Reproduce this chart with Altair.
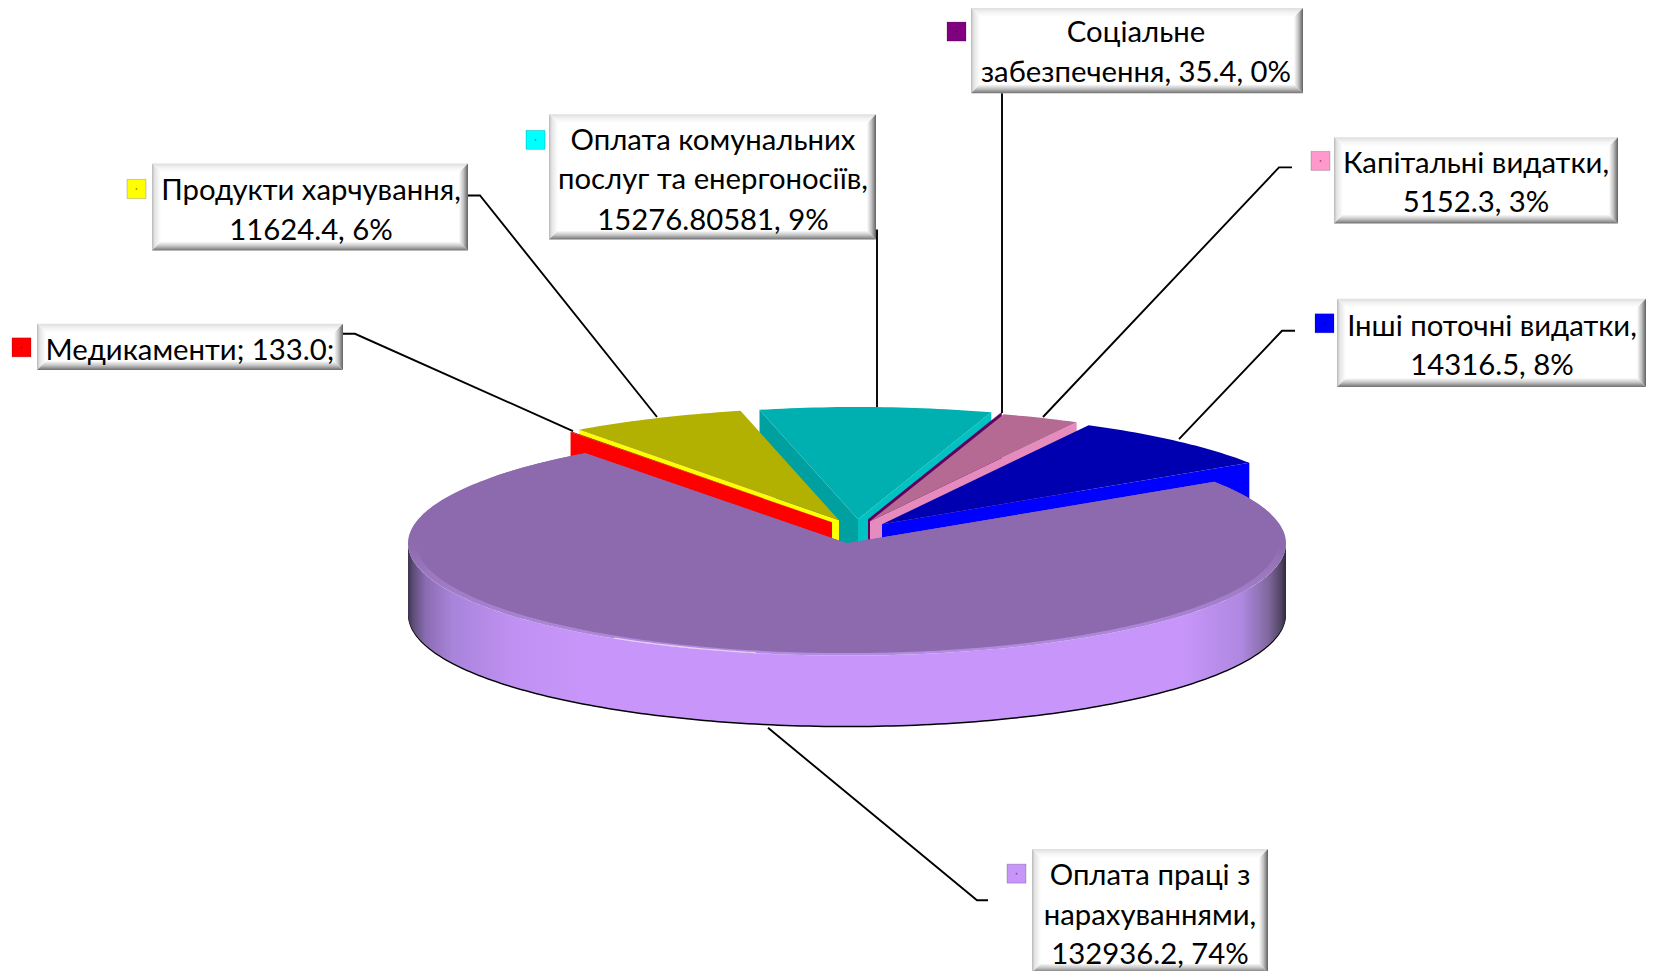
import math
import altair as alt
import pandas as pd

# ---- chart values ----
names = ["Оплата праці з нарахуваннями", "Медикаменти", "Продукти харчування",
         "Оплата комунальних послуг та енергоносіїв", "Соціальне забезпечення",
         "Капітальні видатки", "Інші поточні видатки"]
values = [132936.2, 133.0, 11624.4, 15276.80581, 35.4, 5152.3, 14316.5]
label_lines = [
    ["Оплата праці з", "нарахуваннями,", "132936.2, 74%"],
    ["Медикаменти; 133.0;"],
    ["Продукти харчування,", "11624.4, 6%"],
    ["Оплата комунальних", "послуг та енергоносіїв,", "15276.80581, 9%"],
    ["Соціальне", "забезпечення, 35.4, 0%"],
    ["Капітальні видатки,", "5152.3, 3%"],
    ["Інші поточні видатки,", "14316.5, 8%"],
]
key_colors = ["#C896FA", "#FF0000", "#FFFF00", "#00FFFF", "#800080", "#FF99CC", "#0000FF"]
top_colors = ["#8D69AE", "#B00000", "#B2B000", "#00B0B0", "#5A0A5A", "#B46A92", "#0000B0"]
right_wall = [None, None, None, "#00C2C2", "#600060", "#E68BBD", "#0000FF"]
left_wall = [None, "#FF0000", "#FFFF00", "#00A0A0", None, None, None]

# ---- layout ----
W, H = 1638, 955
CX, CY, RX, RY, DEPTH = 847, 542, 439, 112, 70
START = 56.8
offsets = [(0, 0), (-15, -21), (-8, -23), (11, -24), (21, -24), (23, -22), (35, -19)]
boxes = [(1032, 847, 1268, 970), (37, 323, 343, 369), (152, 163, 468, 250), (549, 114, 876, 239),
         (971, 8, 1303, 93), (1334, 137, 1618, 223), (1337, 298, 1646, 386)]
keys = [(1007, 862), (12, 337), (127, 179), (526, 130), (947, 22), (1311, 151), (1315, 313)]
text_x = [1150, 190, 311, 713, 1136, 1476, 1492]
text_y = [[874, 914, 953], [350], [191, 230], [141, 180, 220], [33, 73], [164, 203], [326, 365]]
leaders = [
    [(988, 898), (977, 898), (768, 726)],
    [(343, 333), (355, 333), (573, 430)],
    [(468, 195), (480, 195), (657, 416)],
    [(877, 229), (877, 406)],
    [(1002, 93), (1002, 412)],
    [(1292, 167), (1279, 167), (1043, 416)],
    [(1295, 330), (1282, 330), (1179, 438)],
]
FONT = "Lato"
FONT_SIZE = 29.3

XS = alt.Scale(domain=[8, 8 + W], nice=False, zero=False)
YS = alt.Scale(domain=[8 + H / 1.0025, 8], nice=False, zero=False)


def enc(chart):
    return chart.encode(x=alt.X("x:Q", scale=XS, axis=None),
                        y=alt.Y("y:Q", scale=YS, axis=None),
                        order=alt.Order("i:Q"))


def poly(points, fill):
    df = pd.DataFrame({"x": [p[0] for p in points], "y": [p[1] for p in points],
                       "i": list(range(len(points)))})
    return enc(alt.Chart(df).mark_line(fill=fill, strokeOpacity=0, strokeWidth=0, interpolate="linear-closed"))


def line(points, color="#000000", width=1.9):
    df = pd.DataFrame({"x": [p[0] for p in points], "y": [p[1] for p in points],
                       "i": list(range(len(points)))})
    return enc(alt.Chart(df).mark_line(color=color, strokeWidth=width))


def grad(stops, horizontal=True):
    return alt.LinearGradient(
        gradient="linear", x1=0, y1=0, x2=1 if horizontal else 0, y2=0 if horizontal else 1,
        stops=[alt.GradientStop(offset=o, color=c) for o, c in stops])


def pt(a, dx=0, dy=0, rx=RX, ry=RY):
    r = math.radians(a)
    return (CX + dx + rx * math.sin(r), CY + dy - ry * math.cos(r))


def arc(a0, a1, dx=0, dy=0, rx=RX, ry=RY, step=1.0):
    n = max(2, int(abs(a1 - a0) / step) + 1)
    return [pt(a0 + (a1 - a0) * k / (n - 1), dx, dy, rx, ry) for k in range(n)]


def ext(points, d=DEPTH):
    return points + [(x, y + d) for x, y in reversed(points)]


total = sum(values)
spans = []
a = START
for v in values:
    spans.append((a, a + v / total * 360))
    a += v / total * 360

layers = []

# exploded slices, back to front
for idx in [3, 4, 5, 6, 2, 1]:
    a0, a1 = spans[idx]
    dx, dy = offsets[idx]
    apex = (CX + dx, CY + dy)
    if left_wall[idx]:
        layers.append(poly(ext([apex, pt(a0, dx, dy)]), left_wall[idx]))
    if right_wall[idx]:
        layers.append(poly(ext([apex, pt(a1, dx, dy)]), right_wall[idx]))
    layers.append(poly([apex] + arc(a0, a1, dx, dy), top_colors[idx]))

# main slice: side wall, bevel, top
front = arc(90, 270)
layers.append(poly([(x, y + 1.5) for x, y in ext(front)], "#000000"))
layers.append(poly(ext(front), grad([
    (0, "#3E3450"), (0.006, "#5E4E78"), (0.02, "#8A6CB2"), (0.05, "#A884DA"), (0.12, "#C090F2"),
    (0.2, "#C896FA"), (0.88, "#C896FA"), (0.95, "#AE88E0"), (0.98, "#80689E"), (0.995, "#4E4260"), (1, "#2E2838")])))
a0, a1 = spans[0]
apex = (CX, CY)
layers.append(poly([apex] + arc(a0, a1), grad([
    (0, "#8D69AE"), (0.45, "#8D69AE"), (0.6, "#9C78C0"), (1, "#B48CE4")], horizontal=False)))
mid = arc(a0 + 18, a1 - 18, 0, -1.5, RX - 8, RY - 1)
layers.append(poly([apex] + arc(a0, a0 + 18) + mid + arc(a1 - 18, a1), "#8D69AE"))
layers.append(line(arc(192, 212, 0, -0.5), "#E6D2F4", 1.2))

# leader lines
for pts in leaders:
    layers.append(line(pts))

# label boxes
B = 9
for (x0, y0, x1, y1) in boxes:
    layers.append(poly([(x0, y0), (x1, y0), (x1 - B, y0 + B), (x0 + B, y0 + B)],
                       grad([(0, "#DEDEDE"), (0.5, "#F4F4F4"), (1, "#FFFFFF")], horizontal=False)))
    layers.append(poly([(x0, y0), (x0 + B, y0 + B), (x0 + B, y1 - B), (x0, y1)],
                       grad([(0, "#B8B8B8"), (0.3, "#E4E4E4"), (1, "#FFFFFF")])))
    layers.append(poly([(x1, y0), (x1 - B, y0 + B), (x1 - B, y1 - B), (x1, y1)],
                       grad([(0, "#FFFFFF"), (0.5, "#C0C0C0"), (1, "#606060")])))
    layers.append(poly([(x0, y1), (x0 + B, y1 - B), (x1 - B, y1 - B), (x1, y1)],
                       grad([(0, "#FFFFFF"), (0.5, "#C4C4C4"), (1, "#707070")], horizontal=False)))
    layers.append(poly([(x0 + B, y0 + B), (x1 - B, y0 + B), (x1 - B, y1 - B), (x0 + B, y1 - B)], "#FFFFFF"))

# legend keys
K = 19
key_df = pd.DataFrame({"x": [k[0] for k in keys], "x2": [k[0] + K for k in keys],
                       "y": [k[1] for k in keys], "y2": [k[1] + K for k in keys],
                       "cx": [k[0] + K / 2 for k in keys], "cy": [k[1] + K / 2 for k in keys],
                       "name": names})
layers.append(alt.Chart(key_df).mark_rect(strokeWidth=1, stroke="#00000030").encode(
    x=alt.X("x:Q", scale=XS, axis=None), x2="x2:Q",
    y=alt.Y("y:Q", scale=YS, axis=None), y2="y2:Q",
    fill=alt.Fill("name:N", scale=alt.Scale(domain=names, range=key_colors), legend=None)))
layers.append(alt.Chart(key_df).mark_point(filled=True, size=3, color="#000000", opacity=0.45).encode(
    x=alt.X("cx:Q", scale=XS, axis=None), y=alt.Y("cy:Q", scale=YS, axis=None)))

# label text
rows = []
for xc, ys, lines_ in zip(text_x, text_y, label_lines):
    for y, t in zip(ys, lines_):
        rows.append({"x": xc, "y": y, "t": t})
layers.append(alt.Chart(pd.DataFrame(rows)).mark_text(
    font=FONT, fontSize=FONT_SIZE, color="#000000", align="center", baseline="middle").encode(
    x=alt.X("x:Q", scale=XS, axis=None), y=alt.Y("y:Q", scale=YS, axis=None), text="t:N"))

chart = alt.layer(*layers).properties(width=W, height=H, padding=0).configure_view(stroke=None)
chart.save("out.html", embed_options={"renderer": "svg", "actions": False})
